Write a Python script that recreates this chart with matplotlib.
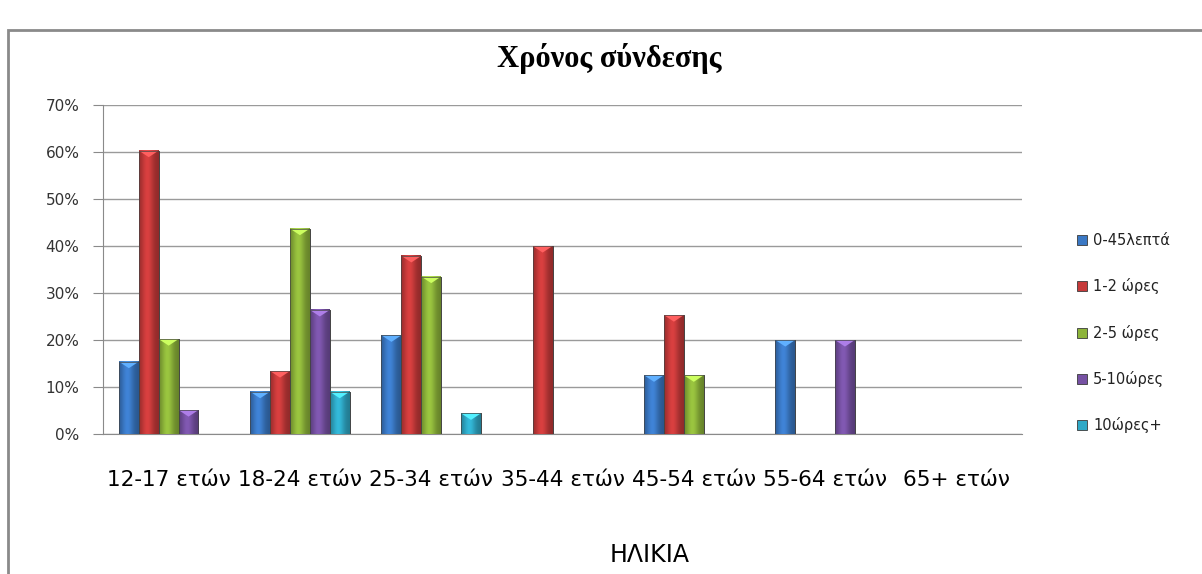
import numpy as np
import matplotlib
matplotlib.use("Agg")
import matplotlib.pyplot as plt
from matplotlib.patches import Rectangle, Polygon
from matplotlib.ticker import PercentFormatter

# data (percent)
categories = ['12-17 ετών', '18-24 ετών', '25-34 ετών', '35-44 ετών',
              '45-54 ετών', '55-64 ετών', '65+ ετών']
series_names = ['0-45λεπτά', '1-2 ώρες', '2-5 ώρες', '5-10ώρες', '10ώρες+']
mins_0_45 = [15.4, 9.0, 21.0, 0, 12.5, 20.0, 0]
hours_1_2 = [60.3, 13.4, 37.9, 40.0, 25.3, 0, 0]
hours_2_5 = [20.2, 43.7, 33.5, 0, 12.5, 0, 0]
hours_5_10 = [5.1, 26.4, 0, 0, 0, 20.0, 0]
hours_10p = [0, 9.0, 4.4, 0, 0, 0, 0]
all_series = [mins_0_45, hours_1_2, hours_2_5, hours_5_10, hours_10p]
colors = ['#3a78c4', '#c63a3a', '#8db43a', '#7651a3', '#2fa9c7']

fig = plt.figure(figsize=(12.02, 5.74), dpi=100)
ax = fig.add_axes([103 / 1202, 1 - 434 / 574, (1022 - 103) / 1202, (434 - 105) / 574])

# outer chart frame (cut at right and bottom)
fig.patches.append(Rectangle((8 / 1202, -0.2), 1.2, (574 - 30) / 574 + 0.2,
                             transform=fig.transFigure, fill=False,
                             edgecolor='#8a8a8a', lw=2))

x = np.arange(len(categories))
w = 20 / 132

def shade(base, n=40):
    rgb = np.array(matplotlib.colors.to_rgb(base))
    t = np.linspace(0, 1, n)
    # darker at both edges, brighter slightly left of centre
    f = 0.72 + 0.38 * np.exp(-((t - 0.42) / 0.32) ** 2)
    img = np.clip(rgb[None, :] * f[:, None], 0, 1)
    return img[None, :, :]

handles = []
for i, (vals, col, name) in enumerate(zip(all_series, colors, series_names)):
    bars = ax.bar(x + (i - 2) * w, vals, w, color=col, edgecolor='#3a3a3a',
                  linewidth=0.6, zorder=3, label=name)
    handles.append(bars)
    light = np.clip(np.array(matplotlib.colors.to_rgb(col)) * 1.3 + 0.08, 0, 1)
    for p in bars.patches:
        h = p.get_height()
        if h <= 0:
            continue
        x0 = p.get_x()
        x1 = x0 + p.get_width()
        ax.imshow(shade(col), extent=[x0, x1, 0, h], aspect='auto', zorder=4,
                  interpolation='bilinear')
        d = min(1.4, h * 0.4)
        ax.add_patch(Polygon([(x0, h), (x1, h), ((x0 + x1) / 2, h - d)],
                             closed=True, facecolor=light, edgecolor='none',
                             zorder=5))
        ax.add_patch(Rectangle((x0, 0), x1 - x0, h, fill=False,
                               edgecolor='#444444', lw=0.5, zorder=6))

ax.set_xlim(-0.5, len(categories) - 0.5)
ax.set_ylim(0, 70)
ax.set_yticks(np.arange(0, 71, 10))
ax.yaxis.set_major_formatter(PercentFormatter(decimals=0))
ax.grid(axis='y', color='#9a9a9a', lw=1, zorder=0)
ax.set_axisbelow(True)
for s in ['top', 'right']:
    ax.spines[s].set_visible(False)
ax.spines['left'].set_color('#8a8a8a')
ax.spines['bottom'].set_color('#8a8a8a')
ax.tick_params(axis='y', length=7, color='#8a8a8a', labelsize=11,
               labelcolor='#333333', pad=10)
ax.tick_params(axis='x', length=0, pad=26)
ax.set_xticks(x)
ax.set_xticklabels(categories, fontsize=15.5)

fig.text(0.507, 1 - 58 / 574, 'Χρόνος σύνδεσης', ha='center', va='center',
         fontsize=22, fontweight='bold', family=['Liberation Serif', 'DejaVu Serif'])
fig.text(650 / 1202, 1 - 555 / 574, 'ΗΛΙΚΙΑ', ha='center', va='center',
         fontsize=17)

leg = fig.legend(handles=handles, labels=series_names, loc='upper left',
                 bbox_to_anchor=(1064 / 1202, 1 - 220 / 574), frameon=False,
                 fontsize=10.5, handlelength=0.7, handleheight=0.7,
                 handletextpad=0.4, labelspacing=2.08)
for t in leg.get_texts():
    t.set_color('#222222')

fig.savefig('out.png', dpi=100)
